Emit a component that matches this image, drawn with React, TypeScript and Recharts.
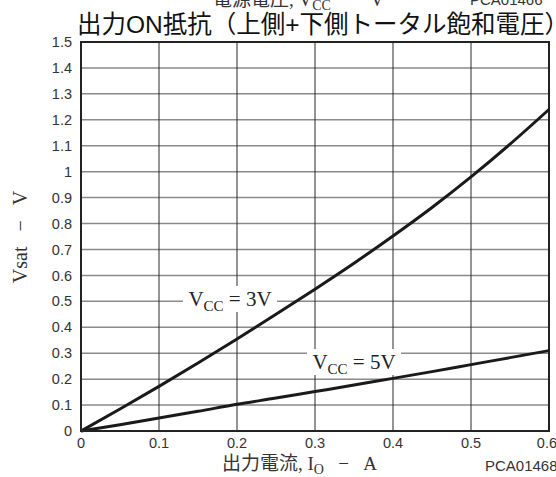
import React from "react";
import {
  LineChart, Line, XAxis, YAxis, CartesianGrid, ReferenceArea, ReferenceDot,
} from "recharts";

// output current I_O (A)
const currents = [0, 0.05, 0.1, 0.15, 0.2, 0.25, 0.3, 0.35, 0.4, 0.45, 0.5, 0.55, 0.6];
// total saturation voltage Vsat (V)
const vsat3V = [0, 0.085, 0.172, 0.262, 0.355, 0.45, 0.547, 0.647, 0.752, 0.862, 0.98, 1.106, 1.24];
const vsat5V = [0, 0.024, 0.05, 0.076, 0.103, 0.127, 0.152, 0.177, 0.203, 0.229, 0.256, 0.283, 0.31];

const xTicks = [0, 0.1, 0.2, 0.3, 0.4, 0.5, 0.6];
const yTicks = [0, 0.1, 0.2, 0.3, 0.4, 0.5, 0.6, 0.7, 0.8, 0.9, 1, 1.1, 1.2, 1.3, 1.4, 1.5];

const data = currents.map((io, i) => ({ io, v3: vsat3V[i], v5: vsat5V[i] }));

const SERIF = "'Liberation Serif', 'Noto Sans CJK JP', serif";
const SANS = "'Liberation Sans', 'Noto Sans CJK JP', sans-serif";
const NB = "\u00a0";
const fmt = (v: number) => String(Math.round(v * 10) / 10);

// curve label with white backing and subscripted "CC"
function VccLabel(props: any) {
  const vb = props.viewBox ?? {};
  const cx = vb.cx ?? (vb.x != null ? vb.x + (vb.width ?? 0) / 2 : undefined);
  const cy = vb.cy ?? (vb.y != null ? vb.y + (vb.height ?? 0) / 2 : undefined);
  if (cx == null || cy == null) return null;
  return (
    <g>
      <rect x={cx - 47} y={cy - 13} width={94} height={26} fill="#fff" />
      <text x={cx} y={cy + 7} textAnchor="middle" fontFamily={SERIF} fontSize={21} fill="#222">
        V<tspan fontSize={15} dy={5}>CC</tspan>
        <tspan dy={-5}>{" = " + props.volts + "V"}</tspan>
      </text>
    </g>
  );
}

export default function App() {
  return (
    <div style={{ position: "absolute", left: 0, top: 0, width: 556, height: 477, background: "#fff" }}>
      <LineChart
        width={556}
        height={477}
        data={data}
        margin={{ top: 42, right: 7, bottom: 16, left: 21 }}
      >
        <CartesianGrid vertical={false} stroke="#8a8a8a" strokeWidth={1.5} />
        <CartesianGrid horizontal={false} stroke="#2a2a2a" strokeWidth={1} />
        <XAxis
          dataKey="io"
          type="number"
          domain={[0, 0.6]}
          ticks={xTicks}
          tickFormatter={fmt}
          tickLine={false}
          axisLine={{ stroke: "#222", strokeWidth: 2 }}
          tick={{ fontSize: 14.5, fill: "#333", fontFamily: SANS }}
          tickMargin={1}
          height={30}
        />
        <YAxis
          type="number"
          domain={[0, 1.5]}
          ticks={yTicks}
          tickFormatter={fmt}
          tickLine={false}
          axisLine={{ stroke: "#222", strokeWidth: 2 }}
          tick={{ fontSize: 14.5, fill: "#333", fontFamily: SANS }}
          tickMargin={3}
          width={60}
        />
        <ReferenceArea x1={0} x2={0.6} y1={0} y2={1.5} fill="none" stroke="#222" strokeWidth={2} />
        <ReferenceDot x={0.191} y={0.509} r={1} fill="none" stroke="none" label={<VccLabel volts={3} />} />
        <ReferenceDot x={0.35} y={0.266} r={1} fill="none" stroke="none" label={<VccLabel volts={5} />} />
        <Line dataKey="v3" type="monotone" stroke="#1a1a1a" strokeWidth={3} dot={false} isAnimationActive={false} />
        <Line dataKey="v5" type="monotone" stroke="#1a1a1a" strokeWidth={3} dot={false} isAnimationActive={false} />
      </LineChart>
      <svg
        width={556}
        height={477}
        style={{ position: "absolute", left: 0, top: 0, pointerEvents: "none" }}
      >
        <text x={213} y={6} fontFamily={SERIF} fontSize={19} fill="#333">
          電源電圧, V<tspan fontSize={14} dy={4}>CC</tspan>
          <tspan dy={-4}>{`${NB}${NB}${NB}−${NB}${NB}${NB}V`}</tspan>
        </text>
        <text x={470} y={5} fontFamily={SANS} fontSize={15} fill="#333">PCA01466</text>
        <text x={323} y={33} textAnchor="middle" fontFamily={SANS} fontSize={24.5} fill="#111">
          出力ON抵抗（上側+下側トータル飽和電圧）
        </text>
        <text
          x={20}
          y={237}
          transform="rotate(-90 20 237)"
          textAnchor="middle"
          dominantBaseline="central"
          fontFamily={SERIF}
          fontSize={20}
          fill="#333"
        >
          {`Vsat${NB}${NB}${NB}−${NB}${NB}${NB}V`}
        </text>
        <text x={222} y={470} fontFamily={SERIF} fontSize={19} fill="#333">
          出力電流, I<tspan fontSize={14} dy={4}>O</tspan>
          <tspan dy={-4}>{`${NB}${NB}${NB}−${NB}${NB}${NB}A`}</tspan>
        </text>
        <text x={485} y={471} fontFamily={SANS} fontSize={15} fill="#333">PCA01468</text>
      </svg>
    </div>
  );
}
